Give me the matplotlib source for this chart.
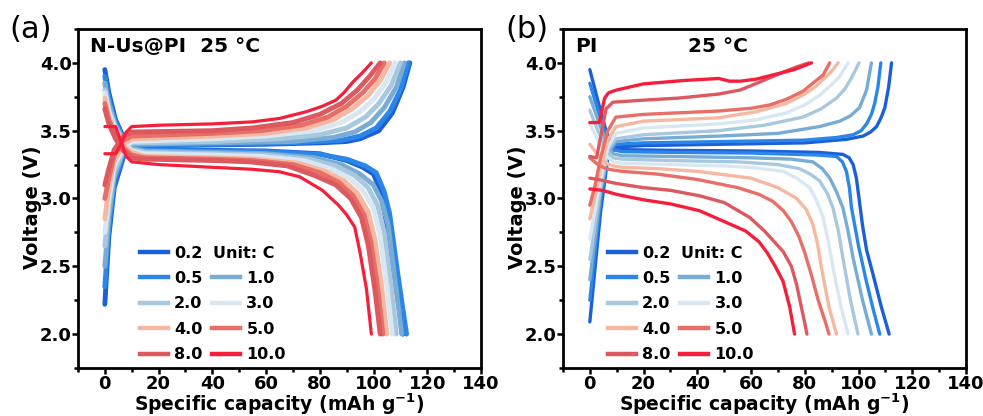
import matplotlib
matplotlib.use('Agg')
import matplotlib.pyplot as plt
from matplotlib.lines import Line2D
from matplotlib.ticker import MultipleLocator

plt.rcParams['font.family'] = ['DejaVu Sans']
plt.rcParams['font.weight'] = 'bold'
plt.rcParams['mathtext.fontset'] = 'custom'
plt.rcParams['mathtext.rm'] = 'DejaVu Sans:bold'
plt.rcParams['mathtext.it'] = 'DejaVu Sans:bold'
plt.rcParams['mathtext.bf'] = 'DejaVu Sans:bold'

rates = ['0.2', '0.5', '1.0', '2.0', '3.0', '4.0', '5.0', '8.0', '10.0']
colors = ['#1b5fd9', '#2a87e9', '#78acd4', '#a8c8df', '#d8e7f2',
          '#f6b8a1', '#e86f68', '#dc5960', '#f51f3c']

# ---- (a) N-Us@PI : charge curves
a_chg_x = [
    [0, 1.5, 3.5, 7, 10, 20, 40, 60, 80, 90, 95, 102, 107, 111, 113.5],
    [0, 1.5, 3.5, 7, 10, 40, 70, 88, 95, 101, 106, 110, 113],
    [0, 1.5, 3.5, 7, 10, 40, 70, 85, 93, 99, 104, 108.5, 111.5],
    [0, 1.5, 3.5, 7, 10, 40, 65, 80, 90, 97, 102, 106.5, 110],
    [0, 1.5, 3.5, 7, 10, 40, 60, 78, 88, 95, 100, 104.5, 108],
    [0, 1.5, 3.5, 7, 10, 40, 60, 75, 85, 92, 98, 102.5, 106],
    [0, 1.5, 3.5, 7, 10, 40, 58, 73, 83, 90, 96, 100.5, 104],
    [0, 1.5, 3.5, 7, 10, 40, 55, 70, 80, 88, 94, 98.5, 102.5],
    [0, 4, 6, 8, 10, 20, 40, 55, 65, 75, 81, 86, 89, 92.4, 96, 99.2],
]
a_chg_v = [
    [2.22, 2.72, 3.08, 3.31, 3.38, 3.39, 3.395, 3.40, 3.41, 3.42, 3.44, 3.50, 3.63, 3.82, 4.0],
    [2.35, 2.78, 3.12, 3.33, 3.39, 3.40, 3.41, 3.43, 3.46, 3.52, 3.64, 3.80, 4.0],
    [2.5, 2.86, 3.16, 3.35, 3.40, 3.41, 3.42, 3.45, 3.49, 3.56, 3.67, 3.82, 4.0],
    [2.65, 2.95, 3.2, 3.36, 3.41, 3.42, 3.44, 3.47, 3.52, 3.6, 3.7, 3.83, 4.0],
    [2.75, 3.0, 3.24, 3.38, 3.42, 3.44, 3.46, 3.5, 3.56, 3.64, 3.73, 3.85, 4.0],
    [2.85, 3.08, 3.28, 3.4, 3.44, 3.46, 3.48, 3.52, 3.58, 3.66, 3.76, 3.87, 4.0],
    [3.0, 3.15, 3.32, 3.43, 3.46, 3.48, 3.5, 3.54, 3.6, 3.68, 3.78, 3.88, 4.0],
    [3.1, 3.22, 3.36, 3.46, 3.49, 3.5, 3.52, 3.56, 3.62, 3.7, 3.8, 3.9, 4.0],
    [3.33, 3.33, 3.40, 3.49, 3.53, 3.54, 3.55, 3.565, 3.59, 3.64, 3.68, 3.725, 3.78, 3.86, 3.93, 4.0],
]
# ---- (a) discharge curves
a_dis_x = [
    [0, 1.5, 4, 7, 10, 15, 40, 60, 80, 90, 96, 100, 102.5, 105, 108, 111],
    [0, 1.5, 4, 7, 10, 15, 40, 60, 80, 90, 97, 101, 104, 106, 109, 112.3],
    [0, 1.5, 4, 7, 10, 15, 40, 60, 78, 88, 95, 100, 103, 105.5, 108, 110.5],
    [0, 1.5, 4, 7, 10, 15, 40, 60, 76, 86, 93, 98, 101.5, 104, 106.5, 108.5],
    [0, 1.5, 4, 7, 10, 15, 40, 58, 74, 84, 91, 96, 100, 102.5, 105, 107],
    [0, 1.5, 4, 7, 10, 15, 40, 56, 72, 82, 89, 94, 98, 100.5, 103, 105],
    [0, 1.5, 4, 7, 10, 15, 40, 55, 70, 80, 87, 92.5, 96.5, 99, 101.5, 103.5],
    [0, 1.5, 4, 7, 10, 15, 40, 54, 68, 78, 86, 91.5, 95.5, 98, 100.5, 102.5],
    [0, 4, 6, 8, 10, 20, 40, 55, 65, 72.5, 81, 87, 90, 93, 95, 97.4, 99.2],
]
a_dis_v = [
    [3.95, 3.78, 3.58, 3.45, 3.38, 3.36, 3.355, 3.35, 3.33, 3.28, 3.23, 3.18, 3.06, 2.8, 2.4, 2.0],
    [3.9, 3.74, 3.56, 3.44, 3.38, 3.355, 3.35, 3.345, 3.325, 3.29, 3.24, 3.19, 3.05, 2.89, 2.45, 2.0],
    [3.85, 3.7, 3.54, 3.43, 3.37, 3.35, 3.34, 3.33, 3.3, 3.25, 3.18, 3.1, 2.98, 2.8, 2.4, 2.0],
    [3.8, 3.66, 3.52, 3.42, 3.36, 3.34, 3.33, 3.32, 3.29, 3.24, 3.17, 3.08, 2.95, 2.75, 2.35, 2.0],
    [3.78, 3.64, 3.5, 3.41, 3.35, 3.33, 3.32, 3.31, 3.28, 3.22, 3.15, 3.06, 2.93, 2.72, 2.35, 2.0],
    [3.74, 3.6, 3.48, 3.39, 3.34, 3.31, 3.3, 3.29, 3.26, 3.2, 3.13, 3.04, 2.9, 2.7, 2.35, 2.0],
    [3.7, 3.58, 3.46, 3.37, 3.32, 3.3, 3.29, 3.28, 3.25, 3.19, 3.12, 3.02, 2.88, 2.68, 2.35, 2.0],
    [3.66, 3.55, 3.44, 3.35, 3.3, 3.29, 3.28, 3.27, 3.24, 3.17, 3.1, 3.0, 2.86, 2.66, 2.33, 2.0],
    [3.53, 3.53, 3.42, 3.31, 3.27, 3.25, 3.23, 3.215, 3.197, 3.16, 3.06, 2.95, 2.88, 2.79, 2.6, 2.33, 2.0],
]

# ---- (b) PI : charge curves
b_chg_x = [
    [0, 2, 4, 6.7, 9.7, 20, 50, 80, 95.5, 101.7, 104.5, 106.7, 108.5, 109.8, 111.2, 112.3],
    [0, 2, 4, 6.7, 9.7, 20, 50, 80, 92, 98, 101, 103, 104.8, 106, 107.2, 108.3],
    [0, 2, 4, 6.7, 9.7, 20, 48, 70, 85.5, 93, 97, 100.4, 103, 104.8],
    [0, 2, 4, 6.7, 9.7, 20, 48, 65, 79.3, 86, 91.8, 95, 97.4, 100.2],
    [0, 2, 4, 6.7, 9.7, 20, 48, 62, 73, 80, 85.5, 90, 93, 96.1],
    [0, 2, 4, 6.7, 9.7, 20, 48, 62, 73, 80, 84.3, 88, 90.5, 92.4],
    [0, 2, 4, 6.7, 9.7, 20, 48, 60, 67, 73, 79.3, 83, 86.8, 89.3],
    [0, 2.5, 4, 6, 8.6, 20, 33, 48, 56, 61, 67, 73, 77, 81.5],
    [0, 3.5, 5.5, 7, 10, 20, 35, 48, 52, 56, 62, 70, 76, 82.5],
]
b_chg_v = [
    [2.09, 2.5, 2.9, 3.30, 3.38, 3.39, 3.40, 3.41, 3.436, 3.46, 3.49, 3.53, 3.6, 3.67, 3.82, 4.0],
    [2.25, 2.62, 2.98, 3.33, 3.40, 3.41, 3.42, 3.43, 3.45, 3.47, 3.5, 3.55, 3.62, 3.7, 3.82, 4.0],
    [2.4, 2.72, 3.04, 3.34, 3.42, 3.44, 3.46, 3.48, 3.53, 3.57, 3.61, 3.67, 3.8, 4.0],
    [2.55, 2.82, 3.08, 3.36, 3.44, 3.47, 3.5, 3.54, 3.6, 3.66, 3.74, 3.81, 3.89, 4.0],
    [2.7, 2.92, 3.14, 3.38, 3.48, 3.52, 3.55, 3.58, 3.63, 3.69, 3.76, 3.84, 3.9, 4.0],
    [2.85, 3.02, 3.22, 3.43, 3.53, 3.57, 3.595, 3.64, 3.7, 3.77, 3.83, 3.9, 3.95, 4.0],
    [2.95, 3.1, 3.3, 3.5, 3.6, 3.62, 3.645, 3.665, 3.69, 3.73, 3.79, 3.85, 3.91, 4.0],
    [3.31, 3.30, 3.45, 3.66, 3.71, 3.725, 3.74, 3.77, 3.80, 3.84, 3.89, 3.94, 3.97, 4.0],
    [3.56, 3.56, 3.74, 3.78, 3.80, 3.845, 3.87, 3.885, 3.865, 3.865, 3.88, 3.92, 3.95, 4.0],
]
# ---- (b) discharge curves
b_dis_x = [
    [0, 3, 6, 8.6, 12, 30, 60, 85, 94.2, 96.5, 98, 99.2, 100.2, 101.5, 103, 105.4, 108.5, 111.4],
    [0, 3, 6, 8.6, 12, 30, 60, 85, 91.8, 94, 95.5, 96.6, 97.4, 100, 102.9, 105.5, 107.9],
    [0, 3, 6, 8.6, 12, 30, 60, 75, 83, 86.5, 89.3, 91.8, 94.2, 96, 98, 101.5, 104.8],
    [0, 3, 6, 8.6, 12, 30, 55, 70, 78, 82, 85.5, 88.3, 90.5, 92.5, 94.2, 97, 99.8],
    [0, 3, 6, 8.6, 12, 30, 50, 62, 72, 77, 81.8, 84.5, 86.8, 88.8, 90.5, 93.5, 96.1],
    [0, 3, 6, 8.6, 12, 25, 40, 60, 70, 77, 80.5, 83, 84.8, 86.2, 89, 91.8],
    [0, 3, 6, 8.6, 12, 25, 40, 55, 63, 68, 72, 75, 77.8, 80, 82.4, 85, 87.5, 89],
    [0, 3, 10, 20, 30, 40.8, 50, 59.5, 65, 71.9, 75, 76.9, 78.5, 80, 80.8],
    [0, 4.7, 10, 20, 30, 40.8, 50, 58, 63, 66, 69, 71.9, 74.4, 76.2],
]
b_dis_v = [
    [3.95, 3.72, 3.5, 3.38, 3.36, 3.355, 3.35, 3.34, 3.325, 3.30, 3.25, 3.15, 3.0, 2.8, 2.62, 2.44, 2.2, 2.0],
    [3.85, 3.65, 3.46, 3.36, 3.345, 3.34, 3.335, 3.32, 3.31, 3.27, 3.2, 3.08, 2.93, 2.65, 2.39, 2.18, 2.0],
    [3.75, 3.58, 3.42, 3.33, 3.315, 3.31, 3.30, 3.29, 3.27, 3.22, 3.15, 3.05, 2.93, 2.77, 2.56, 2.25, 2.0],
    [3.65, 3.5, 3.37, 3.3, 3.29, 3.28, 3.27, 3.25, 3.22, 3.18, 3.13, 3.04, 2.93, 2.76, 2.56, 2.25, 2.0],
    [3.55, 3.43, 3.32, 3.27, 3.26, 3.25, 3.24, 3.225, 3.2, 3.15, 3.08, 2.98, 2.86, 2.68, 2.49, 2.2, 2.0],
    [3.40, 3.32, 3.26, 3.24, 3.23, 3.22, 3.2, 3.15, 3.08, 3.0, 2.92, 2.81, 2.66, 2.49, 2.2, 2.0],
    [3.30, 3.25, 3.22, 3.21, 3.2, 3.18, 3.14, 3.08, 3.03, 2.98, 2.91, 2.83, 2.72, 2.6, 2.44, 2.25, 2.1, 2.0],
    [3.15, 3.14, 3.11, 3.08, 3.06, 3.02, 2.97, 2.86, 2.76, 2.61, 2.5, 2.37, 2.22, 2.08, 2.0],
    [3.07, 3.06, 3.03, 2.99, 2.96, 2.91, 2.83, 2.76, 2.68, 2.6, 2.5, 2.39, 2.2, 2.0],
]

fig = plt.figure(figsize=(9.83, 4.16), dpi=100)
ax_a = fig.add_axes([0.0793, 0.1154, 0.41, 0.815])
ax_b = fig.add_axes([0.5727, 0.1154, 0.41, 0.815])


def draw(ax, cx, cv, dx, dv, lw, lw_last):
    for i in range(len(rates)):
        w = lw_last if i == len(rates) - 1 else lw
        ax.plot(cx[i], cv[i], color=colors[i], lw=w, solid_joinstyle='round',
                solid_capstyle='round')
        ax.plot(dx[i], dv[i], color=colors[i], lw=w, solid_joinstyle='round',
                solid_capstyle='round')


def style(ax, leg_x, unit_x):
    ax.set_xlim(-10, 140)
    ax.set_ylim(1.75, 4.25)
    ax.set_xticks(range(0, 141, 20))
    ax.xaxis.set_minor_locator(MultipleLocator(10))
    ax.set_yticks([2.0, 2.5, 3.0, 3.5, 4.0])
    ax.set_yticklabels(['2.0', '2.5', '3.0', '3.5', '4.0'])
    ax.yaxis.set_minor_locator(MultipleLocator(0.25))
    for sp in ax.spines.values():
        sp.set_linewidth(2)
    ax.tick_params(which='both', direction='out', width=1.8, labelsize=13)
    ax.tick_params(which='major', length=4)
    ax.tick_params(which='minor', length=3)
    ax.tick_params(axis='x', pad=1)
    ax.tick_params(axis='y', pad=0.5)
    ax.set_xlabel('Specific capacity (mAh g$^{-1}$)', fontsize=13.5, fontweight='bold')
    ax.set_ylabel('Voltage (V)', fontsize=14, fontweight='bold')
    ax.xaxis.set_label_coords(0.5, -0.069)
    ax.yaxis.set_label_coords(-0.089, 0.475)

    order = [0, 1, 3, 5, 7, None, 2, 4, 6, 8]
    handles, labels = [], []
    for k in order:
        if k is None:
            handles.append(Line2D([], [], color='none'))
            labels.append(' ')
        else:
            handles.append(Line2D([], [], color=colors[k], lw=3.2))
            labels.append(rates[k])
    ax.legend(handles, labels, ncol=2, frameon=False, fontsize=11.5,
              handlelength=1.75, handletextpad=0.38, columnspacing=0.62,
              labelspacing=0.65, borderpad=0, borderaxespad=0,
              loc='upper left', bbox_to_anchor=(leg_x, 0.361))
    ax.text(unit_x, 2.592, 'Unit: C', fontsize=11.5, fontweight='bold', va='center')


draw(ax_a, a_chg_x, a_chg_v, a_dis_x, a_dis_v, 3.5, 2.3)
draw(ax_b, b_chg_x, b_chg_v, b_dis_x, b_dis_v, 2.4, 2.4)
style(ax_a, 0.154, 40.1)
style(ax_b, 0.112, 33.9)

ax_a.text(-5.4, 4.12, 'N-Us@PI  25 °C', fontsize=14.5, fontweight='bold', va='center')
ax_b.text(-5.4, 4.12, 'PI', fontsize=14.5, fontweight='bold', va='center')
ax_b.text(36.4, 4.12, '25 °C', fontsize=14.5, fontweight='bold', va='center')

fig.text(0.010, 0.928, '(a)', fontsize=22, fontweight='normal', va='center')
fig.text(0.514, 0.928, '(b)', fontsize=22, fontweight='normal', va='center')

fig.savefig('out.png', dpi=100)
